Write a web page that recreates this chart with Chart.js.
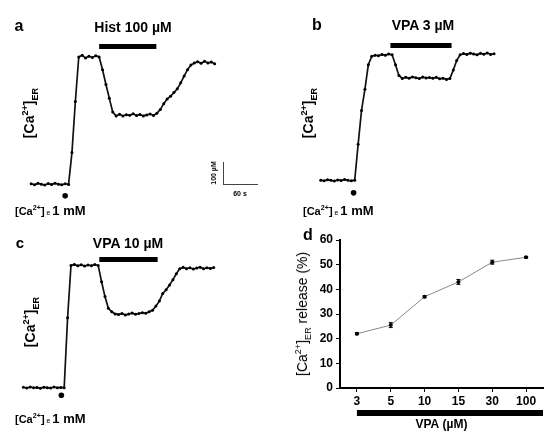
<!DOCTYPE html>
<html>
<head>
<meta charset="utf-8">
<script src="https://cdn.jsdelivr.net/npm/chart.js@4.4.1/dist/chart.umd.min.js"></script>
<style>
  body { margin: 0; background: #fff; }
  #fig { position: relative; width: 550px; height: 434px; overflow: hidden;
         font-family: "Liberation Sans", Arial, sans-serif; color: #000; }
  #fig canvas { position: absolute; }
  .t { position: absolute; white-space: nowrap; font-weight: bold; line-height: 1; }
  .c { transform: translate(-50%, -50%); }
  .l { transform: translate(0, -50%); }
  .r { transform: translate(-50%, -50%) rotate(-90deg); }
  sup, sub { font-size: 65%; line-height: 0; }
  .line { position: absolute; border-color: #444; border-style: solid; border-width: 0; }
</style>
</head>
<body>
<div id="fig">
  <canvas id="trA" width="275" height="220" style="left:0;top:0"></canvas>
  <canvas id="trB" width="275" height="220" style="left:275px;top:0"></canvas>
  <canvas id="trC" width="275" height="214" style="left:0;top:220px"></canvas>
  <canvas id="dose" width="275" height="214" style="left:275px;top:220px"></canvas>

  <!-- panel a -->
  <div class="t c" style="left:19px;top:26px;font-size:16px">a</div>
  <div class="t c" style="left:133px;top:27px;font-size:14px">Hist 100 µM</div>
  <div class="t r" style="left:29px;top:113px;font-size:14px">[Ca<sup>2+</sup>]<sub>ER</sub></div>
  <div class="t l" style="left:15px;top:210px;font-size:11px">[Ca<sup>2+</sup>]<span style="font-size:7px;font-weight:normal"> e </span><span style="font-size:13px"> 1 mM</span></div>
  <div class="line" style="left:223px;top:162px;height:22px;border-left-width:1px"></div>
  <div class="line" style="left:223px;top:184px;width:35px;border-top-width:1px"></div>
  <div class="t r" style="left:213px;top:173px;font-size:7px">100 µM</div>
  <div class="t c" style="left:240px;top:193px;font-size:7px">60 s</div>

  <!-- panel b -->
  <div class="t c" style="left:317px;top:25px;font-size:16px">b</div>
  <div class="t c" style="left:423px;top:25px;font-size:14px">VPA 3 µM</div>
  <div class="t r" style="left:308px;top:113px;font-size:14px">[Ca<sup>2+</sup>]<sub>ER</sub></div>
  <div class="t l" style="left:303px;top:210px;font-size:11px">[Ca<sup>2+</sup>]<span style="font-size:7px;font-weight:normal"> e </span><span style="font-size:13px"> 1 mM</span></div>

  <!-- panel c -->
  <div class="t c" style="left:20px;top:242px;font-size:15px">c</div>
  <div class="t c" style="left:128px;top:243px;font-size:14px">VPA 10 µM</div>
  <div class="t r" style="left:30px;top:322px;font-size:14px">[Ca<sup>2+</sup>]<sub>ER</sub></div>
  <div class="t l" style="left:15px;top:418px;font-size:11px">[Ca<sup>2+</sup>]<span style="font-size:7px;font-weight:normal"> e </span><span style="font-size:13px"> 1 mM</span></div>

  <!-- panel d -->
  <div class="t c" style="left:308px;top:235px;font-size:16px">d</div>
  <div class="t r" style="left:302px;top:314px;font-size:14px;font-weight:normal">[Ca<sup>2+</sup>]<sub>ER</sub> release (%)</div>
</div>

<script>
// sampling times of the traces (s), one sample every 6 s
const traceTimesS = [0, 6, 12, 18, 24, 30, 36, 42, 48, 54, 60, 66, 72, 78, 84, 90, 96, 102, 108, 114,
  120, 126, 132, 138, 144, 150, 156, 162, 168, 174, 180, 186, 192, 198, 204, 210, 216, 222, 228, 234,
  240, 246, 252, 258, 264, 270, 276, 282, 288, 294, 300, 306, 312, 318, 324, 330, 336];

// [Ca2+]ER (µM above baseline), histamine 100 µM
const traceHist100 = [2, -3, 4, 0, -4, 3, -2, 5, 0, -3, 2, -1,
  150, 390, 600,
  608, 595, 604, 598, 606, 600,
  540, 470, 405, 340, 322,
  330, 322, 328, 325, 332, 324, 329, 322, 327, 331, 324,
  335, 352, 380, 402, 415, 432, 450, 478, 510, 540, 562, 572,
  578, 570, 580, 572, 576, 568];

// VPA 3 µM
const traceVpa3 = [1, -2, 3, 0, -3, 2, -1, 4, 0, -2, 1,
  170, 330, 430, 545,
  585, 590, 588, 594, 590, 596, 592,
  545, 495,
  480, 486, 482, 488, 484, 480, 487, 483, 485, 481, 486, 479, 482, 476, 480,
  520, 565, 592,
  598, 594, 600, 596, 592, 599, 595, 601, 594, 597];

// VPA 10 µM
const traceVpa10 = [2, -2, 3, -1, 1, -3, 2, 0, -2, 3, -1, 1, 0,
  330, 577,
  582, 575, 580, 574, 579, 576, 581, 577,
  500, 430, 375, 358, 348,
  345, 350, 343, 348, 352, 346, 350, 354, 351, 358,
  365, 385, 409, 445, 462, 485, 510, 538, 562,
  568, 562, 566, 560, 565, 569, 561, 566, 563, 567];

// drug application windows (s) and time of Ca2+ re-addition (s)
const histWindowA = [120, 221];
const vpaWindowB = [123, 231];
const vpaWindowC = [134, 237];
const caAddTimes = [60, 58, 67];

// panel d: dose response
const vpaDoses = ['3', '5', '10', '15', '30', '100'];
const releasePct = [22, 25.5, 37, 43, 51, 53];
const releaseSem = [0.4, 1.0, 0.4, 1.0, 0.8, 0.3];

// scale of the traces, from the 60 s / 100 µM scale bar
const PX_PER_S = 35 / 60;
const PX_PER_UM = 22 / 100;

const toPoints = (vals) => vals.map((v, i) => ({ x: traceTimesS[i], y: v }));

const drawTrace = (id, vals, win, addT, origin, barY, dotY) => {
    const el = document.getElementById(id);
    const w = el.width, h = el.height;
    new Chart(el, {
        type: 'line',
        data: {
            datasets: [
                { data: toPoints(vals), borderColor: '#111', borderWidth: 1.7,
                  pointRadius: 1.5, pointBackgroundColor: '#000', pointBorderWidth: 0, clip: false },
                { data: [{ x: win[0], y: barY }, { x: win[1], y: barY }], borderColor: '#000',
                  borderWidth: 5, pointRadius: 0, borderCapStyle: 'butt', clip: false },
                { data: [{ x: addT, y: dotY }], showLine: false, pointRadius: 2.8,
                  pointBackgroundColor: '#000', pointBorderWidth: 0, clip: false },
            ],
        },
        options: {
            responsive: false, animation: false, events: [],
            devicePixelRatio: 1,
            layout: { padding: 0 },
            plugins: { legend: { display: false }, tooltip: { enabled: false } },
            scales: {
                x: { type: 'linear', display: false,
                     min: -origin[0] / PX_PER_S, max: (w - origin[0]) / PX_PER_S },
                y: { display: false,
                     min: -(h - origin[1]) / PX_PER_UM, max: origin[1] / PX_PER_UM },
            },
        },
    });
};

drawTrace('trA', traceHist100, histWindowA, caAddTimes[0], [28, 187], 650, -55);
drawTrace('trB', traceVpa3, vpaWindowB, caAddTimes[1], [43, 183], 636, -59);
drawTrace('trC', traceVpa10, vpaWindowC, caAddTimes[2], [20, 170], 605, -36);

// error bars and the VPA bar under the dose axis
const errorBars = {
    id: 'errorBars',
    afterDatasetsDraw(chart) {
        const { ctx, scales: { x, y } } = chart;
        ctx.save();
        ctx.strokeStyle = '#000';
        ctx.lineWidth = 1;
        releasePct.forEach((v, i) => {
            const px = x.getPixelForValue(i);
            const top = y.getPixelForValue(v + releaseSem[i]);
            const bot = y.getPixelForValue(v - releaseSem[i]);
            ctx.beginPath();
            ctx.moveTo(px, top); ctx.lineTo(px, bot);
            ctx.moveTo(px - 2, top); ctx.lineTo(px + 2, top);
            ctx.moveTo(px - 2, bot); ctx.lineTo(px + 2, bot);
            ctx.stroke();
        });
        ctx.restore();
    },
    afterDraw(chart) {
        const { ctx, chartArea, scales: { x } } = chart;
        const x0 = x.getPixelForValue(0);
        ctx.save();
        ctx.fillStyle = '#000';
        ctx.fillRect(x0, chartArea.bottom + 22, chartArea.right - x0, 6);
        ctx.restore();
    },
};

const boldTick = { family: '"Liberation Sans", Arial, sans-serif', size: 12, weight: 'bold' };

new Chart(document.getElementById('dose'), {
    type: 'line',
    data: {
        labels: vpaDoses,
        datasets: [{
            data: releasePct, borderColor: '#888', borderWidth: 1,
            pointRadius: 2, pointBackgroundColor: '#000', pointBorderWidth: 0,
        }],
    },
    options: {
        responsive: false, animation: false, events: [],
        devicePixelRatio: 1,
        layout: { padding: { top: 20, right: 7, left: 0, bottom: 0 } },
        plugins: { legend: { display: false }, tooltip: { enabled: false } },
        scales: {
            x: {
                offset: true,
                afterFit: (s) => { s.height = 46; },
                border: { color: '#000', width: 2 },
                grid: { drawOnChartArea: false, tickLength: 4, color: '#000', offset: false },
                ticks: { color: '#000', font: boldTick, padding: 2 },
                title: { display: true, text: 'VPA (µM)', color: '#000', font: boldTick,
                         padding: { top: 0, bottom: 2 } },
            },
            y: {
                min: 0, max: 60,
                afterFit: (s) => { s.width = 65; },
                border: { color: '#000', width: 2 },
                grid: { drawOnChartArea: false, tickLength: 4, color: '#000' },
                ticks: { stepSize: 10, color: '#000', font: boldTick, padding: 3 },
            },
        },
    },
    plugins: [errorBars],
});
</script>
</body>
</html>
